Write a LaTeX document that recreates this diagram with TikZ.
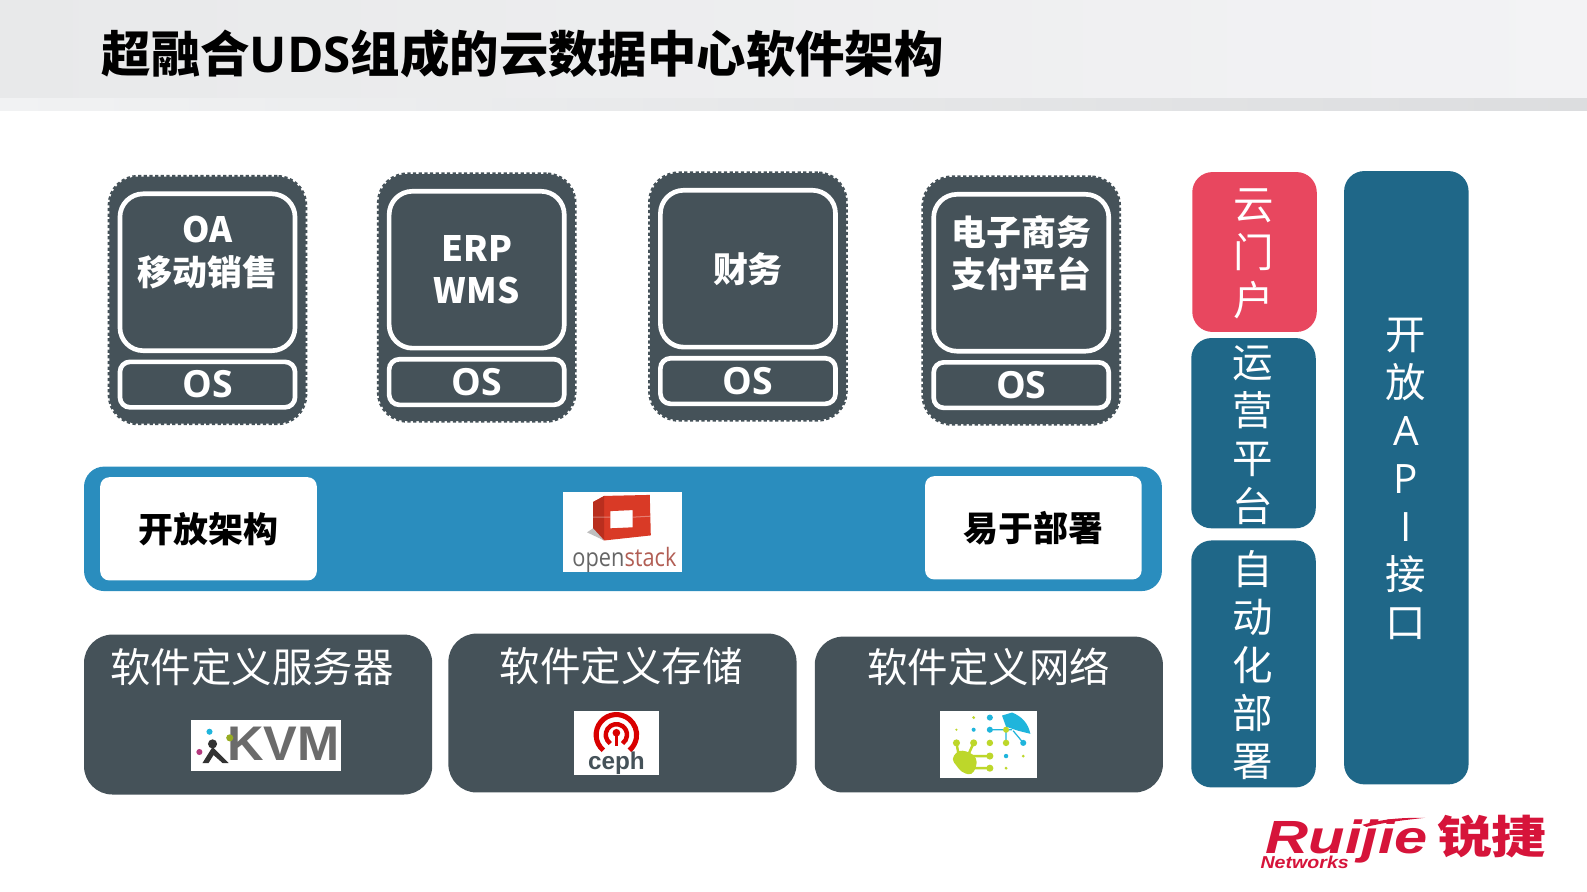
\documentclass[tikz,border=0pt]{standalone}
\usepackage{fontspec}
\setmainfont{Open Sans}
\newfontfamily\cjk{Noto Sans CJK SC}
\newfontfamily\logofont{Liberation Sans}
\definecolor{appdark}{HTML}{455259}
\definecolor{barblue}{HTML}{2A8DBE}
\definecolor{sideteal}{HTML}{1F6788}
\definecolor{sidered}{HTML}{E8475F}
\definecolor{headgray}{HTML}{E8E9EA}
\definecolor{headlight}{HTML}{F3F3F5}
\definecolor{stripgray}{HTML}{F1F2F3}
\definecolor{stripdark}{HTML}{DCDDDF}
\definecolor{ruijiered}{HTML}{D6143A}
\definecolor{ostackred}{HTML}{D93A26}
\definecolor{ostackdark}{HTML}{B92E1E}
\definecolor{sdngreen}{HTML}{BDD72A}
\definecolor{sdnblue}{HTML}{1FB5DC}
\begin{document}
\begin{tikzpicture}[x=0.5pt,y=-0.5pt,every node/.style={inner sep=0pt,align=center},
  appouter/.style={fill=appdark,draw=appdark,line width=1.6pt,dash pattern=on 1.6pt off 1.2pt,rounded corners=14pt,minimum width=97pt,minimum height=122pt},
  appinner/.style={fill=appdark,draw=white,line width=2.3pt,rounded corners=11.5pt,minimum width=86.5pt,minimum height=77.5pt,text=white,font={\cjk\bfseries\fontsize{17.25}{21}\selectfont}},
  appos/.style={fill=appdark,draw=white,line width=2.3pt,rounded corners=5pt,minimum width=86.5pt,minimum height=22.5pt,text=white,font={\bfseries\fontsize{18.5}{21}\selectfont}},
  whitetag/.style={fill=white,rounded corners=4.5pt,minimum width=107pt,minimum height=51pt,text=black,font={\cjk\bfseries\fontsize{17.25}{21}\selectfont}},
  layerbox/.style={fill=appdark,rounded corners=14pt,minimum width=172pt},
  layertext/.style={text=white,font={\cjk\fontsize{20}{24}\selectfont}},
  sidebox/.style={rounded corners=10pt,minimum width=61.5pt},
  sidetext/.style={text=white,font={\cjk\fontsize{20}{23.75}\selectfont}},
  logobox/.style={fill=white}]
\useasboundingbox (0,0) rectangle (1568,881);
% header
\shade[left color=headgray,right color=headlight] (0,0) rectangle (1568,97);
\shade[left color=stripgray,right color=stripdark] (0,97) rectangle (1568,109);
\node[anchor=west,font={\bfseries\fontsize{24.4}{28}\selectfont}] (title) at (100,53) {{\cjk 超融合}UDS{\cjk 组成的云数据中心软件架构}};
% applications
\foreach \name/\px/\py/\txt in {oa/205/296.5/{OA\\{\cjk 移动销售}\\\mbox{}},erp/471/294/{ERP\\WMS},fin/739/293/{财务},pay/1009/297/{电子商务\\支付平台\\\mbox{}}}{
  \node[appouter] (\name) at (\px,\py) {};
  \node[appinner] (\name in) at (\px,\py-27.5) {\txt};
  \node[appos] (\name os) at (\px,\py+83.5) {OS};
}
% openstack bar
\node[fill=barblue,rounded corners=10pt,minimum width=532.5pt,minimum height=61.5pt] (bar) at (615.5,522.5) {};
\node[whitetag] (open) at (206,522.5) {开放架构};
\node[whitetag] (easy) at (1021,521.5) {易于部署};
\node[logobox,minimum width=59pt,minimum height=39.5pt] (ostack) at (615,525.5) {};
\fill[ostackred,even odd rule] (586,496) -- (597,490) -- (642,489) -- (643,529) -- (597,534) -- (586,527) -- cycle (603,505) -- (625,504) -- (625,521) -- (603,522) -- cycle;
\fill[ostackdark] (586,496) -- (597,490) -- (597,534) -- (586,527) -- cycle;
\draw[white,opacity=.35,line width=.5pt] (586,511) -- (603,511) (625,511) -- (643,510);
\fill[black!25] (580,526) -- (586,522) -- (597,534) -- cycle;
\node[text=black!60,anchor=base,xscale=.86,font={\fontsize{12.5}{14}\selectfont}] (ostacktext) at (617,560) {open\textcolor{ostackred!70!black!75}{stack}};
% software defined layers
\node[layerbox,minimum height=79pt] (server) at (255,706) {};
\node[layerbox,minimum height=78.5pt] (storage) at (615,704.5) {};
\node[layerbox,minimum height=77pt] (network) at (977,706) {};
\node[layertext] (servertext) at (249,659) {软件定义服务器};
\node[layertext] (storagetext) at (614,658.5) {软件定义存储};
\node[layertext] (networktext) at (977,659) {软件定义网络};
% kvm logo
\node[logobox,minimum width=74pt,minimum height=25.5pt] (kvm) at (263,736.5) {};
\node[text=black!58,font={\logofont\bfseries\fontsize{24}{26}\selectfont},xscale=1.04] (kvmtext) at (280,735) {KVM};
\fill[black!80] (210,735) circle (4.5) (200,754) -- (210,738) -- (226,754) -- (220,754) -- (211,746) -- (206,754) -- cycle;
\fill[sdnblue] (207,723) circle (3);
\fill[magenta!70!black] (197,743) circle (3);
\fill[sdngreen!80!black] (227,729) circle (3.5);
% ceph logo
\node[logobox,minimum width=42pt,minimum height=32pt] (ceph) at (609,734) {};
\draw[red!85!black,line width=2.5pt] ([shift={(130:20)}]609,726) arc[start angle=130,delta angle=280,radius=20];
\draw[red!85!black,line width=2.2pt] ([shift={(125:10.5)}]609,726) arc[start angle=125,delta angle=290,radius=10.5];
\fill[red!85!black] (609,724) circle (3.8);
\draw[red!85!black,line width=1.2pt] (609,724) -- (609,737);
\node[text=appdark,font={\logofont\bfseries\fontsize{12}{13}\selectfont}] (cephtext) at (609,754) {ceph};
% sdn logo
\node[logobox,minimum width=48pt,minimum height=33.5pt] (sdn) at (977,735.5) {};
\fill[sdnblue] (990,707) -- (1000,704) .. controls (1010,708) and (1016,715) .. (1018,725) -- (1006,722) -- (994,718) -- cycle;
\draw[sdnblue,line width=.6pt] (978,721) -- (1000,721) (1001,722) -- (1011,734) (994,721) -- (994,734);
\fill[sdngreen,rounded corners=2pt] (940,750) -- (947,741) -- (958,743) -- (965,749) -- (965,757) -- (960,766) -- (950,763) -- cycle;
\draw[sdngreen,line width=1.2pt] (945,734) -- (947,745) (962,734) -- (957,745) (958,747) -- (978,747) (958,759) -- (978,759);
\foreach \dx/\dy/\dc/\dr in {962/709/sdngreen/1.5,978/709/sdnblue/3,945/721/sdngreen/1.2,962/721/sdnblue/2,978/721/sdnblue/3,994/721/sdngreen/3,945/734/sdngreen/3.5,962/734/sdngreen/3.5,978/734/sdngreen/3.2,994/734/sdngreen/3.2,1011/734/sdnblue/3,978/747/sdngreen/3.5,994/747/sdnblue/2.2,1011/747/sdngreen/1.5,978/759/sdngreen/3.5,994/759/sdngreen/1.5}
  \fill[\dc] (\dx,\dy) circle (\dr);
% side columns
\node[sidebox,fill=sidered,minimum height=79pt] (portal) at (1239.5,249) {};
\node[sidetext] (portaltext) at (1239,251) {云\\门\\户};
\node[sidebox,fill=sideteal,minimum height=94pt] (ops) at (1238.5,428) {};
\node[sidetext] (opstext) at (1238,430) {运\\营\\平\\台};
\node[sidebox,fill=sideteal,minimum height=122pt] (deploy) at (1238.5,656) {};
\node[sidetext] (deploytext) at (1238,657) {自\\动\\化\\部\\署};
\node[sidebox,fill=sideteal,minimum height=303pt] (api) at (1389.5,472) {};
\node[sidetext] (apitext) at (1389,473) {开\\放\\{\fontfamily{\rmdefault}\selectfont A}\\{\fontfamily{\rmdefault}\selectfont P}\\{\fontfamily{\rmdefault}\selectfont I}\\接\\口};
% vendor logo
\node[anchor=base west,text=ruijiered,xscale=1.28,text depth=0pt,font={\logofont\bfseries\itshape\fontsize{23}{25}\selectfont}] (ruijie) at (1250,843) {Ruijie};
\fill[ruijiered] (1346,815) .. controls (1370,808) and (1390,808) .. (1408,808) .. controls (1390,810) and (1370,812) .. (1350,817) -- cycle;
\node[text=ruijiered,yscale=.82,font={\cjk\bfseries\fontsize{27}{30}\selectfont}] (ruijiecn) at (1474,827) {锐捷};
\node[anchor=base west,text=ruijiered,xscale=1.14,font={\logofont\bfseries\itshape\fontsize{8.5}{10}\selectfont}] (networks) at (1245,858) {Networks};
\end{tikzpicture}
\end{document}
